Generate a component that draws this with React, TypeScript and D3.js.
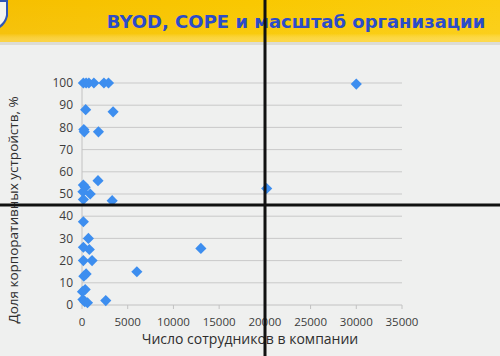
import React from "react";
import * as d3 from "d3";

const title = "BYOD, COPE и масштаб организации";
const xTitle = "Число сотрудников в компании";
const yTitle = "Доля корпоративных устройств, %";

const employees = [150, 450, 750, 1300, 2400, 2900, 400, 3400, 200, 250, 1800, 1750, 150, 350, 100, 900, 150, 3300, 20200, 30000, 150, 700, 150, 800, 13000, 150, 1100, 6000, 200, 450, 350, 50, 100, 300, 600, 2600];
const corpShare = [100, 100, 100, 100, 100, 100, 88, 87, 79, 78, 78, 56, 54, 53, 51, 50, 47.5, 47, 52.5, 99.5, 37.5, 30, 26, 25, 25.5, 20, 20, 15, 13, 14, 7, 6, 2.5, 1.5, 1, 2];
const xTicks = [0, 5000, 10000, 15000, 20000, 25000, 30000, 35000];
const yTicks = [0, 10, 20, 30, 40, 50, 60, 70, 80, 90, 100];

export default function App() {
  const W = 500, H = 356;
  const x = d3.scaleLinear().domain([0, 35000]).range([82, 402]);
  const y = d3.scaleLinear().domain([0, 100]).range([305, 83]);
  const marker = d3.symbol().type(d3.symbolSquare).size(62);
  const font = "'Open Sans', 'DejaVu Sans', sans-serif";
  return (
    <svg width={W} height={H} style={{ position: "absolute", left: 0, top: 0 }} fontFamily={font}>
      <defs>
        <linearGradient id="bar" x1="0" y1="0" x2="1" y2="0">
          <stop offset="0" stopColor="#f6bf00" />
          <stop offset="0.5" stopColor="#f9c800" />
          <stop offset="1" stopColor="#fbcd10" />
        </linearGradient>
        <linearGradient id="barV" x1="0" y1="0" x2="0" y2="1">
          <stop offset="0" stopColor="#ffffff" stopOpacity="0" />
          <stop offset="0.8" stopColor="#ffffff" stopOpacity="0.05" />
          <stop offset="1" stopColor="#ffe070" stopOpacity="0.6" />
        </linearGradient>
      </defs>
      <rect x={0} y={0} width={W} height={H} fill="#eff0ef" />
      <rect x={0} y={0} width={W} height={42} fill="url(#bar)" />
      <rect x={0} y={0} width={W} height={42} fill="url(#barV)" />
      <rect x={0} y={42} width={W} height={3} fill="#dcdcd6" />
      <path d="M0,0 L8,0 L8,16 Q6,24 0,28 Z" fill="#2f56b8" />
      <path d="M0,2 L6,2 L6,15 Q5,21 0,25 Z" fill="#f4f4f0" />
      <text x={296} y={28} textAnchor="middle" fontSize={18} fontWeight="bold" fill="#2c4cc9" fontFamily="'DejaVu Sans', Verdana, sans-serif">{title}</text>

      {yTicks.map((t) => (
        <g key={"y" + t}>
          {t > 0 && <line x1={x(0)} x2={x(35000)} y1={y(t)} y2={y(t)} stroke="#c9c9c9" strokeWidth={1} />}
          <text x={73} y={y(t)} dy="0.35em" textAnchor="end" fontSize={12} fill="#3c3c3c">{t}</text>
        </g>
      ))}
      <line x1={x(0)} x2={x(0)} y1={y(100)} y2={y(0)} stroke="#c2c2c2" strokeWidth={1} />
      <line x1={x(0)} x2={x(35000)} y1={y(0)} y2={y(0)} stroke="#c2c2c2" strokeWidth={1} />
      {xTicks.map((t) => (
        <g key={"x" + t}>
          <line x1={x(t)} x2={x(t)} y1={y(0)} y2={y(0) + 4} stroke="#c2c2c2" strokeWidth={1} />
          <text x={x(t)} y={322} dy="0.35em" textAnchor="middle" fontSize={11.5} fill="#3c3c3c">{t}</text>
        </g>
      ))}
      <text x={250} y={344} textAnchor="middle" fontSize={14} fill="#2e2e2e">{xTitle}</text>
      <text transform="translate(18,210) rotate(-90)" textAnchor="middle" fontSize={13.5} fill="#2e2e2e">{yTitle}</text>

      {employees.map((e, i) => (
        <path key={i} d={marker() as string} transform={`translate(${x(e)},${y(corpShare[i])}) rotate(45)`} fill="#3d8eef" />
      ))}

      <line x1={265} x2={265} y1={0} y2={H} stroke="#111" strokeWidth={3} />
      <line x1={0} x2={W} y1={205} y2={205} stroke="#111" strokeWidth={3} />
    </svg>
  );
}
